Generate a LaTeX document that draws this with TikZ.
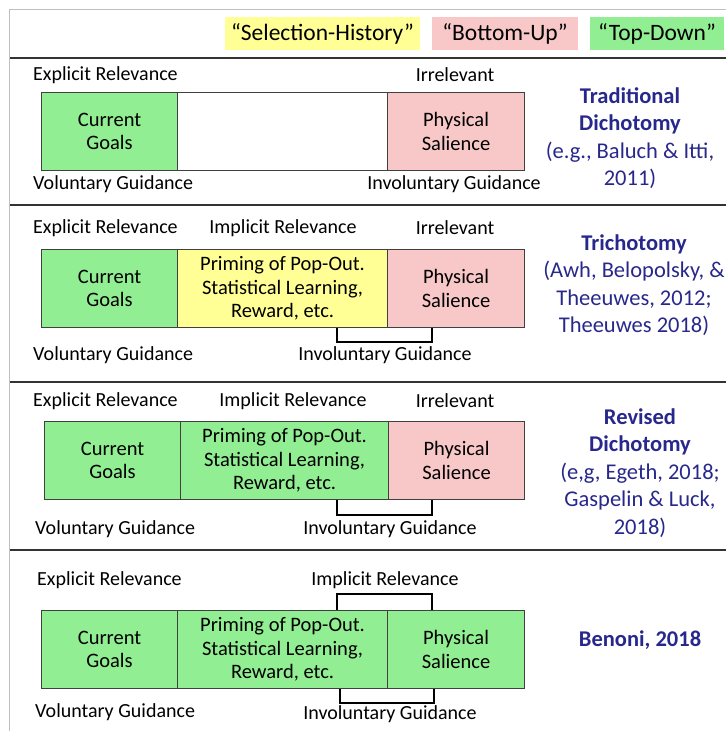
\documentclass[tikz,border=0pt]{standalone}
\usepackage{fontspec}
\setmainfont{Carlito}
\definecolor{gr}{RGB}{146,238,146}
\definecolor{pk}{RGB}{248,200,200}
\definecolor{yl}{RGB}{255,255,150}
\definecolor{ttlblue}{RGB}{40,40,140}
\begin{document}
\begin{tikzpicture}[x=1pt,y=-1pt,
 lbl/.style={font=\fontsize{20}{22}\selectfont, inner sep=0pt},
 cell/.style={draw=black!75, line width=1.1pt, minimum height=78pt, inner sep=0pt, align=center, anchor=north west, font=\fontsize{20.5}{23.5}\selectfont},
 leg/.style={minimum height=33pt, inner sep=0pt, font=\fontsize{23.5}{25}\selectfont},
 ttl/.style={text=ttlblue, align=center, inner sep=0pt, font=\fontsize{22.5}{27.5}\selectfont},
 sep/.style={draw=black!80, line width=2.6pt},
 brk/.style={draw=black, line width=1.6pt},
 frame/.style={draw=black!25, line width=0.8pt}]
\useasboundingbox (0,0) rectangle (726,731);
% frame
\draw[frame] (9,731) -- (9,9) -- (726,9);
% legend
\node[leg, fill=yl, minimum width=195pt] (lsh) at (322.5,33.5) {“Selection-History”};
\node[leg, fill=pk, minimum width=146pt] (lbu) at (505,33.5) {“Bottom-Up”};
\node[leg, fill=gr, minimum width=134pt] (ltd) at (657,33.5) {“Top-Down”};
% separators
\draw[sep] (10,58) -- (726,58);
\draw[sep] (10,205) -- (726,205);
\draw[sep] (10,382) -- (726,382);
\draw[sep] (10,550) -- (726,550);

% ---------- Panel 1
\node[lbl, anchor=west] (e1) at (33,75) {Explicit Relevance};
\node[lbl] (i1) at (455,75) {Irrelevant};
\node[cell, fill=gr, minimum width=136pt] (g1) at (41,92) {Current\\Goals};
\node[cell, minimum width=210pt] (m1) at (177,92) {};
\node[cell, fill=pk, minimum width=137pt] (p1) at (387,92) {Physical\\Salience};
\node[lbl, anchor=west] (v1) at (33,184) {Voluntary Guidance};
\node[lbl] (n1) at (454,184) {Involuntary Guidance};
\node[ttl] (t1) at (630,138) {\textbf{Traditional}\\\textbf{Dichotomy}\\(e.g., Baluch \& Itti,\\2011)};

% ---------- Panel 2
\node[lbl, anchor=west] (e2) at (33,228) {Explicit Relevance};
\node[lbl] (r2) at (283,228) {Implicit Relevance};
\node[lbl] (i2) at (455,228) {Irrelevant};
\node[cell, fill=gr, minimum width=136pt] (g2) at (41,249) {Current\\Goals};
\node[cell, fill=yl, minimum width=210pt] (m2) at (177,249) {Priming of Pop-Out.\\Statistical Learning,\\Reward, etc.};
\node[cell, fill=pk, minimum width=137pt] (p2) at (387,249) {Physical\\Salience};
\coordinate (b2a) at (337,342);
\coordinate (b2b) at (432,342);
\draw[brk] (b2a |- m2.south) -- (b2a) -- (b2b) -- (b2b |- p2.south);
\node[lbl, anchor=west] (v2) at (33,355) {Voluntary Guidance};
\node[lbl] (n2) at (385,355) {Involuntary Guidance};
\node[ttl] (t2) at (634,285) {\textbf{Trichotomy}\\(Awh, Belopolsky, \&\\Theeuwes, 2012;\\Theeuwes 2018)};

% ---------- Panel 3
\node[lbl, anchor=west] (e3) at (33,401) {Explicit Relevance};
\node[lbl] (r3) at (293,401) {Implicit Relevance};
\node[lbl] (i3) at (455,401) {Irrelevant};
\node[cell, fill=gr, minimum width=136pt] (g3) at (44,421) {Current\\Goals};
\node[cell, fill=gr, minimum width=208pt] (m3) at (180,421) {Priming of Pop-Out.\\Statistical Learning,\\Reward, etc.};
\node[cell, fill=pk, minimum width=136pt] (p3) at (388,421) {Physical\\Salience};
\coordinate (b3a) at (337,515);
\coordinate (b3b) at (432,515);
\draw[brk] (b3a |- m3.south) -- (b3a) -- (b3b) -- (b3b |- p3.south);
\node[lbl, anchor=west] (v3) at (35,529) {Voluntary Guidance};
\node[lbl] (n3) at (390,529) {Involuntary Guidance};
\node[ttl] (t3) at (640,473) {\textbf{Revised}\\\textbf{Dichotomy}\\(e,g, Egeth, 2018;\\Gaspelin \& Luck,\\2018)};

% ---------- Panel 4
\node[lbl, anchor=west] (e4) at (37,580) {Explicit Relevance};
\node[lbl] (r4) at (385,580) {Implicit Relevance};
\node[cell, fill=gr, minimum width=136pt] (g4) at (41,610) {Current\\Goals};
\node[cell, fill=gr, minimum width=210pt] (m4) at (177,610) {Priming of Pop-Out.\\Statistical Learning,\\Reward, etc.};
\node[cell, fill=gr, minimum width=137pt] (p4) at (387,610) {Physical\\Salience};
\coordinate (b4a) at (337,594);
\coordinate (b4b) at (432,594);
\draw[brk] (b4a |- m4.north) -- (b4a) -- (b4b) -- (b4b |- p4.north);
\coordinate (b4c) at (340,703);
\coordinate (b4d) at (434,703);
\draw[brk] (b4c |- m4.south) -- (b4c) -- (b4d) -- (b4d |- p4.south);
\node[lbl, anchor=west] (v4) at (35,712) {Voluntary Guidance};
\node[lbl] (n4) at (390,714) {Involuntary Guidance};
\node[ttl] (t4) at (640,640) {\textbf{Benoni, 2018}};
\end{tikzpicture}
\end{document}
